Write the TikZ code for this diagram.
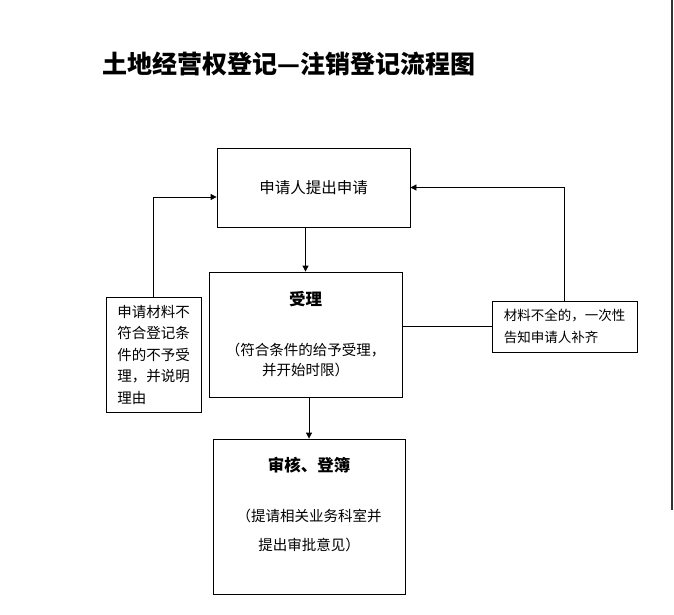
\documentclass[tikz,border=0pt]{standalone}
\usepackage{fontspec}
\setmainfont{Noto Sans CJK SC}
\usepackage{tikz}
\usetikzlibrary{positioning,arrows.meta}

\begin{document}
\begin{tikzpicture}[x=1pt, y=-1pt,
      box/.style={draw, line width=0.8pt, inner sep=0pt, align=center},
      arr/.style={line width=0.8pt, -{Triangle[length=6pt, width=6pt]}},
      link/.style={line width=0.8pt}]
   \useasboundingbox (0,0) rectangle (674,615);
   % title
   \node[anchor=west, font=\bfseries\fontsize{25pt}{30pt}\selectfont] (title) at (99,64)
      {土地经营权登记—注销登记流程图};
   % main column
   \node[box, minimum width=193pt, minimum height=79pt,
         font=\fontsize{15.5pt}{20pt}\selectfont] (apply) at (313.5,187.5) {申请人提出申请};
   \node[box, minimum width=193pt, minimum height=125pt,
         font=\fontsize{14.5pt}{20pt}\selectfont] (accept) at (305.5,334.5)
      {{\bfseries\fontsize{16.5pt}{20pt}\selectfont 受理}\\[30pt]（符合条件的给予受理，\\并开始时限）};
   \node[box, minimum width=192pt, minimum height=155pt] (review) at (309,516.5) {};
   \node[align=center, font=\fontsize{14.5pt}{29pt}\selectfont] (reviewtxt)
      at ([yshift=12pt]review.center)
      {{\bfseries\fontsize{16.5pt}{29pt}\selectfont 审核、登簿}\\[21pt]（提请相关业务科室并\\提出审批意见）};
   % side boxes
   \node[box, align=left, minimum width=95pt, minimum height=115pt,
         font=\fontsize{14.5pt}{21.5pt}\selectfont] (reject) at (153.5,354.5)
      {申请材料不\\符合登记条\\件的不予受\\理，并说明\\理由};
   \node[box, align=left, minimum width=145pt, minimum height=51pt,
         font=\fontsize{13.5pt}{22pt}\selectfont] (supplement) at (564.5,326.5)
      {材料不全的，一次性\\告知申请人补齐};
   % connectors
   \draw[arr] (accept.north |- apply.south) -- (accept.north);
   \draw[arr] (accept.south -| review.north) -- (review.north);
   \draw[arr] (reject.north) |- ([yshift=-9.5pt]apply.west);
   \draw[link] (accept.east |- supplement.west) -- (supplement.west);
   \draw[arr] (supplement.north) |- (apply.east);
   % page edge
   \draw[line width=2pt, black!80] (672,0) -- (672,510);
\end{tikzpicture}
\end{document}
